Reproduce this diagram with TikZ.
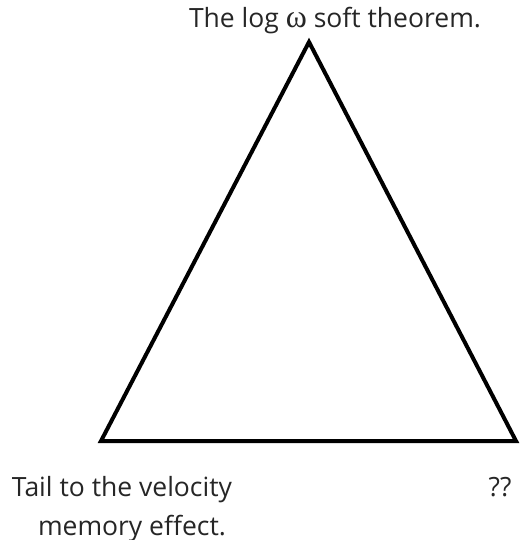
\documentclass[tikz,border=0pt]{standalone}
\usepackage{fontspec}
\setmainfont{Open Sans}
\newfontfamily\omegafont{Liberation Serif}
\begin{document}
\begin{tikzpicture}[x=1pt,y=-1pt,
  lbl/.style={inner sep=0pt,anchor=base,font=\fontsize{26.5}{40}\selectfont,text=black!85},
  edge/.style={line width=4pt,line join=miter,line cap=round}]
\useasboundingbox (0,0) rectangle (519,540);
\coordinate (A) at (309,42);
\coordinate (B) at (101,441);
\coordinate (C) at (516,441);
\draw[edge] (A) -- (B) -- (C) -- cycle;
\node[lbl] (top) at (335,28) {The log {\omegafont\fontsize{32}{40}\selectfont ω} soft theorem.};
\node[lbl] (left1) at (122,496) {Tail to the velocity};
\node[lbl] (left2) at (132,535) {memory effect.};
\node[lbl] (right) at (500,496) {??};
\end{tikzpicture}
\end{document}
